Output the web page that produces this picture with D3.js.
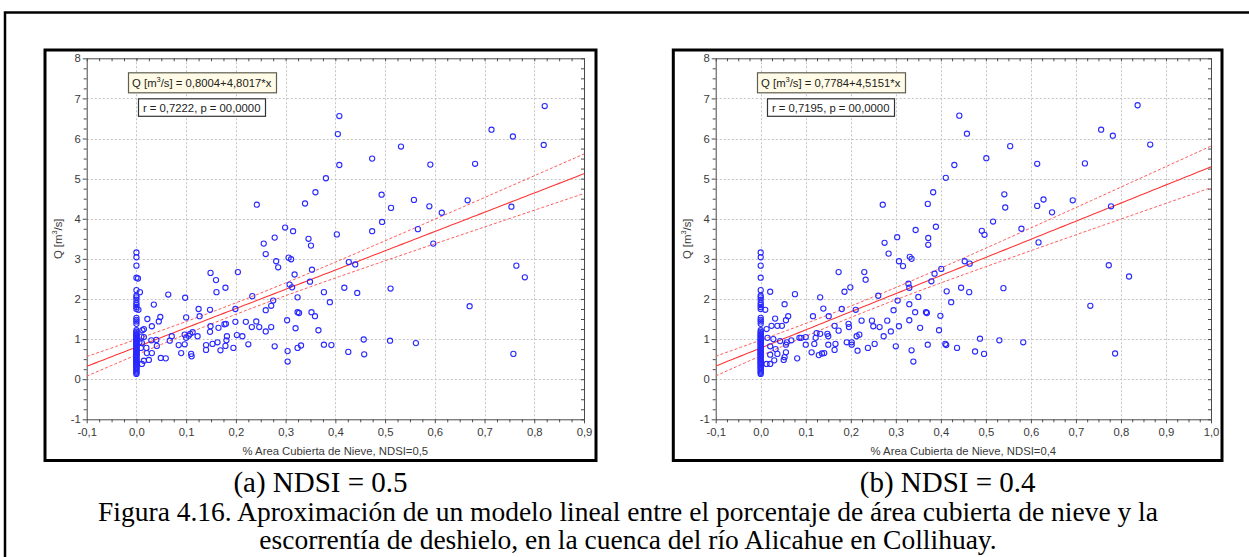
<!DOCTYPE html>
<html lang="es">
<head>
<meta charset="utf-8">
<title>Figura 4.16</title>
<script src="https://cdn.jsdelivr.net/npm/d3@7/dist/d3.min.js"></script>
<style>
  html, body { margin: 0; padding: 0; background: #fff; }
  svg { display: block; }
</style>
</head>
<body>
<svg id="fig" width="1249" height="557"></svg>
<script>
// Q [m3/s] on days with no snow-covered area (x = 0), same in both panels
const flowAtZeroCover = [3.16, 3.04, 2.83, 2.53, 2.22, 2.08, 2.04, 1.98, 1.90, 1.85, 1.80, 1.75,
  1.53, 1.48, 1.44, 1.38, 1.22, 1.18, 1.15, 1.12, 1.10, 1.08, 1.05, 1.03, 1.00, 0.98, 0.97, 0.95,
  0.92, 0.90, 0.88, 0.86, 0.83, 0.80, 0.78, 0.75, 0.73, 0.72, 0.70, 0.68, 0.65, 0.63, 0.62, 0.60,
  0.58, 0.55, 0.53, 0.50, 0.48, 0.47, 0.44, 0.42, 0.40, 0.38, 0.36, 0.32, 0.30, 0.29, 0.25, 0.22,
  0.19, 0.16, 0.13];

// NDSI = 0.5 : [snow-covered fraction, Q]
const pointsA = [
  [0.003,2.51],[0.007,2.17],[0.004,1.73],[0.006,0.92],[0.010,1.06],[0.009,0.78],[0.011,0.90],[0.011,0.38],
  [0.012,1.22],[0.015,1.25],[0.015,1.05],[0.015,0.46],[0.020,0.78],[0.021,0.65],[0.022,1.50],[0.025,0.48],
  [0.030,0.97],[0.031,0.65],[0.031,1.32],[0.035,1.86],[0.040,0.98],[0.041,0.83],[0.045,1.44],[0.048,1.55],
  [0.049,0.53],[0.059,0.52],[0.064,2.11],[0.067,0.96],[0.071,1.07],[0.085,0.85],[0.090,0.65],[0.097,0.87],
  [0.097,1.11],[0.098,2.03],[0.100,1.03],[0.100,1.54],[0.105,1.08],[0.108,1.13],[0.110,0.63],[0.111,0.57],
  [0.113,1.17],[0.123,1.07],[0.125,1.75],[0.127,1.57],[0.140,0.85],[0.140,0.73],[0.148,1.73],[0.148,1.18],
  [0.149,1.32],[0.149,2.65],[0.153,0.88],[0.160,2.47],[0.161,2.17],[0.163,0.92],[0.165,1.28],[0.169,0.72],
  [0.177,1.37],[0.179,2.28],[0.179,0.83],[0.180,1.38],[0.181,0.97],[0.182,1.07],[0.195,0.78],[0.199,1.75],
  [0.199,1.43],[0.202,1.10],[0.204,2.67],[0.213,1.07],[0.220,1.43],[0.225,0.87],[0.232,1.30],[0.233,2.07],
  [0.241,1.44],[0.242,4.35],[0.247,1.30],[0.256,3.38],[0.260,3.12],[0.260,1.19],[0.260,1.72],[0.271,1.30],
  [0.271,1.83],[0.275,1.96],[0.278,0.82],[0.278,3.53],[0.281,2.94],[0.285,2.79],[0.299,3.78],[0.303,1.47],
  [0.304,0.70],[0.304,0.44],[0.306,3.03],[0.308,2.36],[0.311,2.99],[0.313,2.29],[0.315,3.69],[0.318,2.61],
  [0.320,1.27],[0.324,2.04],[0.324,1.67],[0.327,1.65],[0.324,0.78],[0.331,0.84],[0.339,4.38],[0.346,3.50],
  [0.351,3.33],[0.353,2.73],[0.349,2.43],[0.352,1.67],[0.359,1.57],[0.360,4.66],[0.366,1.22],[0.377,2.17],
  [0.377,0.86],[0.381,5.01],[0.389,1.92],[0.392,0.85],[0.403,3.61],[0.405,6.11],[0.408,6.56],[0.408,5.34],
  [0.418,2.28],[0.426,0.68],[0.427,2.92],[0.440,2.86],[0.444,2.15],[0.457,0.99],[0.458,0.62],[0.474,5.50],
  [0.474,3.69],[0.493,4.60],[0.494,3.92],[0.510,0.96],[0.511,2.26],[0.512,4.27],[0.532,5.80],[0.558,4.47],
  [0.562,0.90],[0.566,3.74],[0.589,4.31],[0.591,5.35],[0.597,3.38],[0.614,4.15],[0.666,4.46],[0.670,1.82],
  [0.681,5.37],[0.714,6.22],[0.754,4.30],[0.757,6.05],[0.758,0.63],[0.764,2.83],[0.781,2.54],[0.819,5.84],
  [0.821,6.81]
];

// NDSI = 0.4 : [snow-covered fraction, Q]
const pointsB = [
  [0.010,1.73],[0.013,1.25],[0.013,0.38],[0.015,1.03],[0.021,2.18],[0.021,0.82],[0.021,0.61],[0.021,0.38],
  [0.024,1.33],[0.028,1.00],[0.030,0.47],[0.032,1.51],[0.033,0.75],[0.037,1.33],[0.037,0.63],[0.043,0.95],
  [0.047,1.33],[0.051,0.48],[0.053,1.87],[0.053,0.55],[0.056,1.47],[0.056,0.86],[0.056,0.67],[0.058,0.92],
  [0.061,1.57],[0.068,0.97],[0.076,2.12],[0.081,0.52],[0.086,1.03],[0.090,1.03],[0.100,1.05],[0.100,0.86],
  [0.113,0.67],[0.116,1.57],[0.119,0.88],[0.122,1.03],[0.124,1.15],[0.129,0.60],[0.132,2.04],[0.132,1.13],
  [0.136,0.64],[0.139,1.76],[0.141,0.65],[0.148,1.13],[0.150,1.07],[0.150,0.86],[0.151,1.57],[0.164,1.33],
  [0.164,0.73],[0.166,0.88],[0.173,2.67],[0.173,1.21],[0.180,1.75],[0.186,2.18],[0.191,0.92],[0.195,1.38],
  [0.196,1.30],[0.199,2.29],[0.202,0.92],[0.202,0.86],[0.211,1.73],[0.213,1.07],[0.215,0.71],[0.219,1.11],
  [0.224,1.46],[0.230,2.67],[0.233,2.48],[0.238,0.78],[0.247,1.46],[0.250,1.32],[0.253,0.88],[0.261,2.08],
  [0.264,1.30],[0.271,4.35],[0.273,1.07],[0.275,3.40],[0.281,1.46],[0.284,3.13],[0.289,1.19],[0.295,1.72],
  [0.300,0.82],[0.303,3.54],[0.304,1.96],[0.307,1.32],[0.307,2.94],[0.316,2.82],[0.328,2.38],[0.330,2.28],
  [0.330,1.87],[0.330,1.47],[0.331,3.05],[0.335,3.00],[0.335,0.72],[0.339,0.44],[0.343,1.67],[0.344,3.72],
  [0.350,2.05],[0.354,1.28],[0.367,1.67],[0.369,1.65],[0.371,0.86],[0.371,4.37],[0.372,3.52],[0.372,3.35],
  [0.379,2.44],[0.383,4.66],[0.386,2.63],[0.389,3.80],[0.396,1.22],[0.399,1.58],[0.401,2.75],[0.410,0.88],
  [0.412,0.85],[0.411,5.02],[0.413,2.19],[0.423,1.92],[0.430,5.34],[0.436,0.78],[0.441,6.57],[0.445,2.28],
  [0.453,2.94],[0.458,6.12],[0.463,2.17],[0.464,2.88],[0.476,0.69],[0.487,1.01],[0.491,3.70],[0.496,0.63],
  [0.497,3.60],[0.501,5.51],[0.516,3.93],[0.530,0.97],[0.539,2.27],[0.541,4.61],[0.543,4.28],[0.554,5.81],
  [0.579,3.75],[0.583,0.92],[0.614,5.37],[0.614,4.32],[0.617,3.41],[0.628,4.48],[0.647,4.16],[0.693,4.46],
  [0.720,5.38],[0.732,1.83],[0.756,6.22],[0.773,2.84],[0.778,4.31],[0.782,6.07],[0.787,0.64],[0.818,2.56],
  [0.837,6.83],[0.865,5.85]
];

// Fitted linear models (Q = a + b*x) and correlation
const fitA = { intercept: 0.8004, slope: 4.8017, r: 0.7222, p: "00,0000" };
const fitB = { intercept: 0.7784, slope: 4.5151, r: 0.7195, p: "00,0000" };

const yTicks = [-1, 0, 1, 2, 3, 4, 5, 6, 7, 8];
const xTicksA = [-0.1, 0.0, 0.1, 0.2, 0.3, 0.4, 0.5, 0.6, 0.7, 0.8, 0.9];
const xTicksB = [-0.1, 0.0, 0.1, 0.2, 0.3, 0.4, 0.5, 0.6, 0.7, 0.8, 0.9, 1.0];

const xTitleA = "% Area Cubierta de Nieve, NDSI=0,5";
const xTitleB = "% Area Cubierta de Nieve, NDSI=0,4";
const captionA = "(a) NDSI = 0.5";
const captionB = "(b) NDSI = 0.4";
const figureCaption = [
  "Figura 4.16. Aproximación de un modelo lineal entre el porcentaje de área cubierta de nieve y la",
  "escorrentía de deshielo, en la cuenca del río Alicahue en Collihuay."
];

// ------------------------------------------------------------------
const svg = d3.select("#fig");
const SANS = "'Liberation Sans', Arial, sans-serif";
const SERIF = "'Liberation Serif', 'Times New Roman', serif";
const AXIS = "#4a4a4a";

const decComma = (v, d) => (v < 0 ? "-" : "") + Math.abs(v).toFixed(d).replace(".", ",");

// page frame
svg.append("rect")
  .attr("x", 5).attr("y", 12.5).attr("width", 1300).attr("height", 700)
  .attr("fill", "none").attr("stroke", "#000").attr("stroke-width", 2.5);

function withZeros(points) {
  return flowAtZeroCover.map(q => [0, q]).concat(points);
}

function minorBetween(ticks, parts) {
  const out = [];
  for (let i = 0; i < ticks.length - 1; i++) {
    const step = (ticks[i + 1] - ticks[i]) / parts;
    for (let k = 1; k < parts; k++) out.push(ticks[i] + k * step);
  }
  return out;
}

function drawPanel(c) {
  const g = svg.append("g");
  const [fx0, fy0, fx1, fy1] = c.frame;
  g.append("rect")
    .attr("x", fx0).attr("y", fy0).attr("width", fx1 - fx0).attr("height", fy1 - fy0)
    .attr("fill", "#fff").attr("stroke", "#000").attr("stroke-width", 3);

  const [px0, px1, py0, py1] = c.plot;
  const x = d3.scaleLinear().domain([c.xTicks[0], c.xTicks[c.xTicks.length - 1]]).range([px0, px1]);
  const y = d3.scaleLinear().domain([yTicks[0], yTicks[yTicks.length - 1]]).range([py1, py0]);

  // dotted grid
  const grid = g.append("g")
    .attr("stroke", "#c4c4c4").attr("stroke-width", 1).attr("stroke-dasharray", "2,2");
  grid.selectAll("line.gx").data(c.xTicks.slice(1, -1)).join("line")
    .attr("x1", d => Math.round(x(d)) + 0.5).attr("x2", d => Math.round(x(d)) + 0.5)
    .attr("y1", py0).attr("y2", py1);
  grid.selectAll("line.gy").data(yTicks.slice(1, -1)).join("line")
    .attr("y1", d => Math.round(y(d)) + 0.5).attr("y2", d => Math.round(y(d)) + 0.5)
    .attr("x1", px0).attr("x2", px1);

  const xMinor = minorBetween(c.xTicks, 4);
  const yMinor = minorBetween(yTicks, 4);

  const styleAxis = sel => {
    sel.select(".domain").remove();
    sel.selectAll("line").attr("stroke", AXIS);
    sel.selectAll("text").attr("fill", "#3a3a3a").attr("font-family", SANS).attr("font-size", 11.3);
    sel.attr("font-family", null).attr("font-size", null);
  };

  // labelled axes (outward ticks)
  g.append("g").attr("transform", `translate(0,${py1})`)
    .call(d3.axisBottom(x).tickValues(c.xTicks).tickFormat(v => decComma(v, 1))
      .tickSize(4).tickSizeOuter(0).tickPadding(5)).call(styleAxis);
  g.append("g").attr("transform", `translate(0,${py1})`)
    .call(d3.axisBottom(x).tickValues(xMinor).tickFormat("").tickSize(3).tickSizeOuter(0)).call(styleAxis);
  g.append("g").attr("transform", `translate(${px0},0)`)
    .call(d3.axisLeft(y).tickValues(yTicks).tickFormat(v => String(v))
      .tickSize(4).tickSizeOuter(0).tickPadding(2)).call(styleAxis);
  g.append("g").attr("transform", `translate(${px0},0)`)
    .call(d3.axisLeft(y).tickValues(yMinor).tickFormat("").tickSize(3).tickSizeOuter(0)).call(styleAxis);

  // mirrored axes (inward ticks)
  g.append("g").attr("transform", `translate(0,${py0})`)
    .call(d3.axisTop(x).tickValues(c.xTicks.concat(xMinor)).tickFormat("").tickSize(-3).tickSizeOuter(0)).call(styleAxis);
  g.append("g").attr("transform", `translate(${px1},0)`)
    .call(d3.axisRight(y).tickValues(yTicks.concat(yMinor)).tickFormat("").tickSize(-3).tickSizeOuter(0)).call(styleAxis);

  // plot box
  g.append("rect")
    .attr("x", px0 + 0.5).attr("y", py0 + 0.5).attr("width", px1 - px0).attr("height", py1 - py0)
    .attr("fill", "none").attr("stroke", AXIS).attr("stroke-width", 1);

  // fitted line and 95% confidence band computed from the observations
  const data = withZeros(c.points);
  const fit = c.fit;
  const n = data.length;
  const mx = d3.mean(data, d => d[0]);
  const sxx = d3.sum(data, d => (d[0] - mx) ** 2);
  const sse = d3.sum(data, d => (d[1] - (fit.intercept + fit.slope * d[0])) ** 2);
  const s = Math.sqrt(sse / (n - 2));
  const tCrit = 1.97;
  const [xa, xb] = x.domain();
  const xs = d3.range(0, 121).map(i => xa + (xb - xa) * i / 120);
  const band = xs.map(v => {
    const yh = fit.intercept + fit.slope * v;
    const h = tCrit * s * Math.sqrt(1 / n + (v - mx) ** 2 / sxx);
    return { x: v, yh, lo: yh - h, hi: yh + h };
  });

  const clipId = "clip-" + c.id;
  g.append("clipPath").attr("id", clipId)
    .append("rect").attr("x", px0).attr("y", py0).attr("width", px1 - px0).attr("height", py1 - py0);
  const lines = g.append("g").attr("clip-path", `url(#${clipId})`).attr("fill", "none");
  lines.append("path").datum(band)
    .attr("d", d3.line().x(d => x(d.x)).y(d => y(d.hi)))
    .attr("stroke", "#ff5a5a").attr("stroke-width", 1).attr("stroke-dasharray", "3,2");
  lines.append("path").datum(band)
    .attr("d", d3.line().x(d => x(d.x)).y(d => y(d.lo)))
    .attr("stroke", "#ff5a5a").attr("stroke-width", 1).attr("stroke-dasharray", "3,2");
  lines.append("path").datum(band)
    .attr("d", d3.line().x(d => x(d.x)).y(d => y(d.yh)))
    .attr("stroke", "#ff3535").attr("stroke-width", 1.1);

  // observations
  g.append("g").selectAll("circle").data(data).join("circle")
    .attr("cx", d => x(d[0])).attr("cy", d => y(d[1])).attr("r", 2.6)
    .attr("fill", "none").attr("stroke", "#2a2aff").attr("stroke-width", 1.1);

  // equation box
  const bx = px0 + 115;
  const eqText = g.append("text")
    .attr("x", bx).attr("y", py0 + 28.5).attr("text-anchor", "middle")
    .attr("font-family", SANS).attr("font-size", 11.3).attr("fill", "#222");
  eqText.append("tspan").text("Q [m");
  eqText.append("tspan").attr("font-size", 7.5).attr("dy", -4.5).text("3");
  eqText.append("tspan").attr("dy", 4.5)
    .text(`/s] = ${decComma(fit.intercept, 4)}+${decComma(fit.slope, 4)}*x`);
  const eb = eqText.node().getBBox();
  g.insert("rect", () => eqText.node())
    .attr("x", Math.round(eb.x - 4) + 0.5).attr("y", py0 + 14.5)
    .attr("width", Math.round(eb.width + 8)).attr("height", 20)
    .attr("fill", "#fffbe6").attr("stroke", "#5e5e52").attr("stroke-width", 1.2);

  const rText = g.append("text")
    .attr("x", bx).attr("y", py0 + 53.5).attr("text-anchor", "middle")
    .attr("font-family", SANS).attr("font-size", 11.3).attr("fill", "#222")
    .text(`r = ${decComma(fit.r, 4)}, p = ${fit.p}`);
  const rb = rText.node().getBBox();
  g.insert("rect", () => rText.node())
    .attr("x", Math.round(rb.x - 5) + 0.5).attr("y", py0 + 40.5)
    .attr("width", Math.round(rb.width + 10)).attr("height", 17.5)
    .attr("fill", "#fff").attr("stroke", "#333").attr("stroke-width", 1.2);

  // axis titles
  g.append("text")
    .attr("x", (px0 + px1) / 2).attr("y", py1 + 35.5).attr("text-anchor", "middle")
    .attr("font-family", SANS).attr("font-size", 11.3).attr("fill", "#3a3a3a")
    .text(c.xTitle);
  const yt = g.append("text")
    .attr("transform", `translate(${px0 - 25},${(py0 + py1) / 2}) rotate(-90)`)
    .attr("text-anchor", "middle")
    .attr("font-family", SANS).attr("font-size", 11.3).attr("fill", "#3a3a3a");
  yt.append("tspan").text("Q [m");
  yt.append("tspan").attr("font-size", 7.5).attr("dy", -4.5).text("3");
  yt.append("tspan").attr("dy", 4.5).text("/s]");

  // panel caption
  svg.append("text")
    .attr("x", (fx0 + fx1) / 2).attr("y", 492).attr("text-anchor", "middle")
    .attr("font-family", SERIF).attr("font-size", 29).attr("fill", "#000")
    .text(c.caption);
}

drawPanel({
  id: "a", frame: [45, 50, 596, 460.5], plot: [86.7, 584, 58.3, 419.3],
  xTicks: xTicksA, points: pointsA, fit: fitA, xTitle: xTitleA, caption: captionA
});
drawPanel({
  id: "b", frame: [673.3, 50, 1222, 460.5], plot: [715.7, 1211, 58.3, 419.3],
  xTicks: xTicksB, points: pointsB, fit: fitB, xTitle: xTitleB, caption: captionB
});

// figure caption
svg.append("g").selectAll("text").data(figureCaption).join("text")
  .attr("x", 628).attr("y", (d, i) => 521 + i * 28).attr("text-anchor", "middle")
  .attr("font-family", SERIF).attr("font-size", 27.5).attr("fill", "#000")
  .text(d => d);
</script>
</body>
</html>
